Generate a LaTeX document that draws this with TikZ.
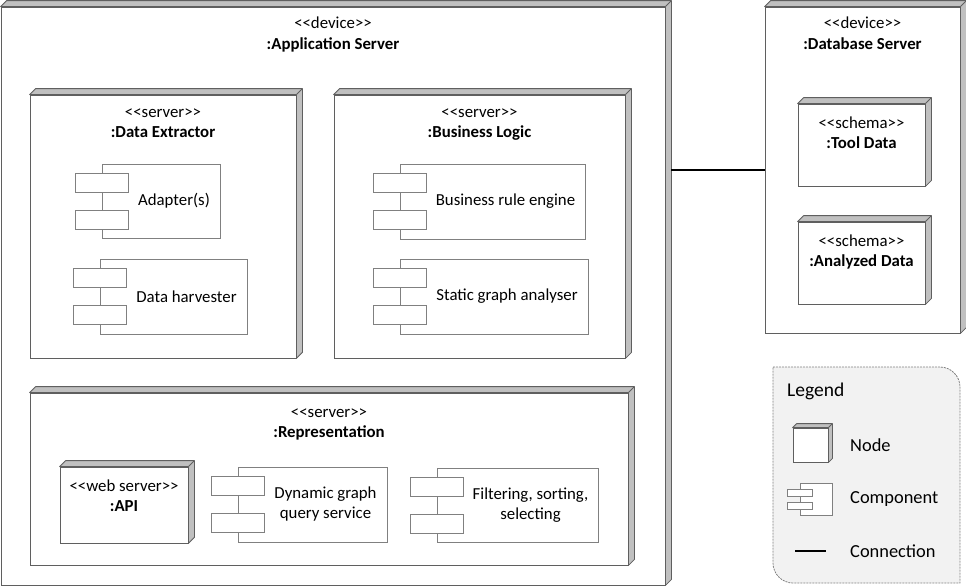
\documentclass[tikz,border=0pt]{standalone}
\usepackage{fontspec}
\setmainfont{Carlito}
\usepackage{tikz}
\usepackage{xcolor}
\usetikzlibrary{positioning}

\definecolor{edgegray}{HTML}{5F5F5F}
\definecolor{compgray}{HTML}{808080}
\definecolor{bandgray}{HTML}{C0C0C0}
\definecolor{legendfill}{HTML}{F2F2F2}

% << and >> without the guillemet ligature
\newcommand{\stereo}[1]{<\kern0pt<#1>\kern0pt>}
% grey top and right side of a 3d node
\newcommand{\nodedepth}[2][6]{%
\fill[bandgray, draw=edgegray, line width=0.8pt, line join=round] (#2.north west) -- ++(#1,-#1) -- ([shift={(#1,-#1)}]#2.north east) -- ([shift={(#1,-#1)}]#2.south east) -- (#2.south east) -- (#2.north east) -- cycle;
\draw[edgegray, line width=0.8pt] (#2.north east) -- ++(#1,-#1);}

\begin{document}
\begin{tikzpicture}[x=1pt, y=-1pt,
  every node/.style={font=\fontsize{16.8}{20}\selectfont},
  devnode/.style={draw=edgegray, fill=white, line width=0.8pt, inner sep=0pt},
  comp/.style={draw=compgray, fill=white, line width=0.8pt, inner sep=0pt},
  comptab/.style={draw=compgray, fill=white, line width=0.8pt, inner sep=0pt, minimum width=53pt, minimum height=19pt},
  comptext/.style={align=center, xshift=13pt},
  title/.style={align=center, inner sep=2pt},
  legtext/.style={anchor=west, inner sep=0pt, font=\fontsize{18.4}{22}\selectfont},
  conn/.style={line width=1.3pt, black}]
\useasboundingbox (0,0) rectangle (966,587);

% devices
\node[devnode, minimum width=664pt, minimum height=578pt] (app) at (333,296) {};
\nodedepth{app}
\node[title, below=8pt of app.north] (apptitle) {\stereo{device}\\[1pt] \textbf{:Application Server}};

\node[devnode, minimum width=195pt, minimum height=326pt] (db) at (862.5,170) {};
\nodedepth{db}
\node[title, below=8pt of db.north] (dbtitle) {\stereo{device}\\[1pt] \textbf{:Database Server}};

\draw[conn] (db.west) -- ([xshift=6pt]app.east |- db.west);

% servers
\node[devnode, minimum width=266pt, minimum height=263pt] (ext) at (163,226.5) {};
\nodedepth{ext}
\node[title, below=12pt of ext.north] (exttitle) {\stereo{server}\\ \textbf{:Data Extractor}};

\node[devnode, minimum width=291pt, minimum height=263pt] (biz) at (479.5,226.5) {};
\nodedepth{biz}
\node[title, below=12pt of biz.north] (biztitle) {\stereo{server}\\ \textbf{:Business Logic}};

\node[devnode, minimum width=598pt, minimum height=172pt] (rep) at (329,479) {};
\nodedepth{rep}
\node[title, below=14pt of rep.north] (reptitle) {\stereo{server}\\ \textbf{:Representation}};

\node[devnode, minimum width=128pt, minimum height=76pt] (api) at (124,505) {};
\nodedepth{api}
\node[title, below=11.5pt of api.north] (apititle) {\stereo{web server}\\ \textbf{:API}};

% schemas
\node[devnode, minimum width=127pt, minimum height=82pt] (tooldata) at (861.5,145) {};
\nodedepth{tooldata}
\node[title, below=11.5pt of tooldata.north] (tooltitle) {\stereo{schema}\\ \textbf{:Tool Data}};

\node[devnode, minimum width=127pt, minimum height=82pt] (anadata) at (861.5,263) {};
\nodedepth{anadata}
\node[title, below=11pt of anadata.north] (anatitle) {\stereo{schema}\\ \textbf{:Analyzed Data}};

% components
\node[comp, minimum width=118pt, minimum height=74pt] (adapt) at (161,201) {};
\node[comptab] (adapt1) at ([yshift=18.5pt]adapt.west) {};
\node[comptab] (adapt2) at ([yshift=-18.5pt]adapt.west) {};
\node[comptext] (adapttext) at (adapt) {Adapter(s)};

\node[comp, minimum width=147pt, minimum height=75pt] (harv) at (173.5,296.5) {};
\node[comptab] (harv1) at ([yshift=18.5pt]harv.west) {};
\node[comptab] (harv2) at ([yshift=-18.5pt]harv.west) {};
\node[comptext] (harvtext) at (harv) {Data harvester};

\node[comp, minimum width=185pt, minimum height=75pt] (rules) at (492.5,201.5) {};
\node[comptab] (rules1) at ([yshift=18.5pt]rules.west) {};
\node[comptab] (rules2) at ([yshift=-18.5pt]rules.west) {};
\node[comptext] (rulestext) at (rules) {Business rule engine};

\node[comp, minimum width=188pt, minimum height=75pt] (graph) at (494,296.5) {};
\node[comptab] (graph1) at ([yshift=18.5pt]graph.west) {};
\node[comptab] (graph2) at ([yshift=-18.5pt]graph.west) {};
\node[comptext] (graphtext) at (graph) {Static graph analyser};

\node[comp, minimum width=149pt, minimum height=75pt] (query) at (312.5,504.5) {};
\node[comptab] (query1) at ([yshift=18.5pt]query.west) {};
\node[comptab] (query2) at ([yshift=-18.5pt]query.west) {};
\node[comptext] (querytext) at (query) {Dynamic graph\\query service};

\node[comp, minimum width=161pt, minimum height=74pt] (filter) at (517.5,505) {};
\node[comptab] (filter1) at ([yshift=18.5pt]filter.west) {};
\node[comptab] (filter2) at ([yshift=-18.5pt]filter.west) {};
\node[comptext] (filtertext) at (filter) {Filtering, sorting,\\selecting};

% legend
\draw[compgray, fill=legendfill, line width=0.8pt, dash pattern=on 2pt off 1pt] (773,367) -- (940,367) .. controls (951,367) and (960,376) .. (960,387) -- (960,583) -- (793,583) .. controls (782,583) and (773,574) .. (773,563) -- cycle;
\node[legtext, font=\fontsize{19.5}{22}\selectfont] (legtitle) at (787,391) {Legend};

\node[devnode, minimum width=35pt, minimum height=34pt] (legnode) at (810.5,445) {};
\nodedepth[4]{legnode}
\node[legtext] (legnodetext) at (850,445) {Node};

\node[comp, minimum width=32pt, minimum height=32pt] (legcomp) at (816,499) {};
\node[comptab, minimum width=25pt, minimum height=7pt] (legcomp1) at ([yshift=6.5pt]legcomp.west) {};
\node[comptab, minimum width=25pt, minimum height=7pt] (legcomp2) at ([yshift=-6.5pt]legcomp.west) {};
\node[legtext] (legcomptext) at (850,499) {Component};

\coordinate (legconnA) at (795,551);
\coordinate (legconnB) at (826,551);
\draw[conn] (legconnA) -- (legconnB);
\node[legtext] (legconntext) at (850,551) {Connection};
\end{tikzpicture}
\end{document}
